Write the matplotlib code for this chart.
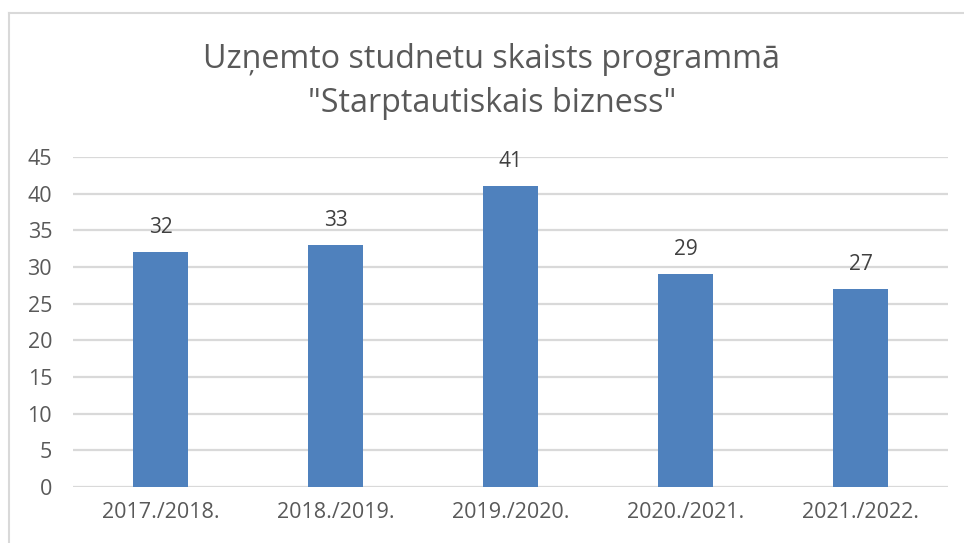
import matplotlib
matplotlib.use("Agg")
import matplotlib.pyplot as plt
from matplotlib.lines import Line2D

years = ["2017./2018.", "2018./2019.", "2019./2020.", "2020./2021.", "2021./2022."]
students = [32, 33, 41, 29, 27]
yticks = [0, 5, 10, 15, 20, 25, 30, 35, 40, 45]

plt.rcParams["font.family"] = ["Open Sans", "DejaVu Sans"]

fig = plt.figure(figsize=(9.64, 5.43), dpi=100)
ax = fig.add_axes([73 / 964, 56 / 543, 875 / 964, 330 / 543])

x = range(len(years))
bars = ax.bar(x, students, width=0.314, color="#4f81bd", zorder=3)

# data labels above bars
for b, v in zip(bars, students):
    ax.annotate(str(v), (b.get_x() + b.get_width() / 2, v),
                xytext=(0, 10), textcoords="offset points",
                ha="center", va="bottom", fontsize=15, color="#404040")

ax.set_xlim(-0.5, len(years) - 0.5)
ax.set_ylim(0, 45)
ax.set_yticks(yticks)
ax.set_xticks(list(x))
ax.set_xticklabels(years)
ax.tick_params(axis="both", length=0, labelsize=15.5, labelcolor="#595959")
ax.tick_params(axis="x", pad=11)
ax.tick_params(axis="y", pad=15)

ax.yaxis.grid(True, color="#d9d9d9", linewidth=1.6, zorder=0)
for s in ax.spines.values():
    s.set_visible(False)

# title is centred on the chart box, which starts at the border on the left
tx = 492 / 964
fig.text(tx, 1 - 60 / 543, "Uzņemto studnetu skaists programmā",
         ha="center", va="center", fontsize=23.2, color="#595959")
fig.text(tx, 1 - 103 / 543, "\"Starptautiskais bizness\"",
         ha="center", va="center", fontsize=23.2, color="#595959")

# chart border (left and top visible)
bx, by = 9 / 964, 1 - 13 / 543
fig.add_artist(Line2D([bx, bx], [0, by], transform=fig.transFigure, color="#d9d9d9", linewidth=1.5))
fig.add_artist(Line2D([bx, 1], [by, by], transform=fig.transFigure, color="#d9d9d9", linewidth=1.5))

fig.savefig("out.png", dpi=100)
